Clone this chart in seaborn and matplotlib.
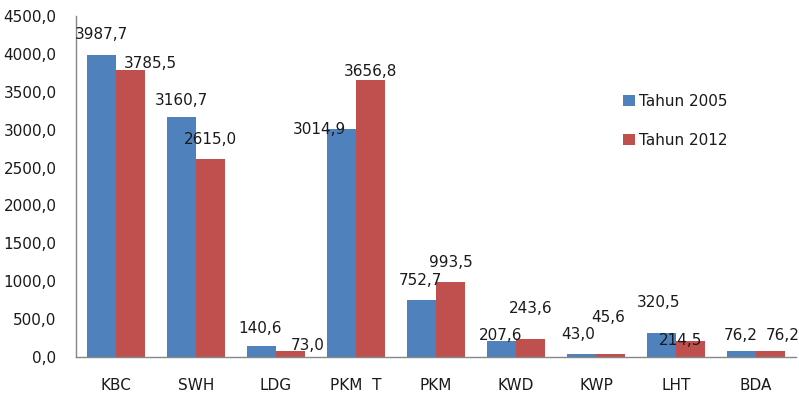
import pandas as pd
import matplotlib
matplotlib.use('Agg')
import matplotlib.pyplot as plt
from matplotlib.ticker import FuncFormatter
import seaborn as sns

width, height = 7.99, 3.96

categories = ['KBC', 'SWH', 'LDG', 'PKM  T', 'PKM', 'KWD', 'KWP', 'LHT', 'BDA']
tahun_2005 = [3987.7, 3160.7, 140.6, 3014.9, 752.7, 207.6, 43.0, 320.5, 76.2]
tahun_2012 = [3785.5, 2615.0, 73.0, 3656.8, 993.5, 243.6, 45.6, 214.5, 76.2]
series = ['Tahun 2005', 'Tahun 2012']

# label offsets (pixels) from top centre of each bar, as placed in the original
offsets_2005 = [(0, 20), (0, 17), (-1, 18), (-22, -1), (-1, 19), (-1, 6), (-3, 19), (-3, 30), (-1, 16)]
offsets_2012 = [(20, 7), (0, 19), (17, 6), (0, 8), (0, 19), (0, 30), (-2, 36), (-10, 0), (12, 16)]

table = pd.DataFrame({
    'lokasi': categories * 2,
    'nilai': tahun_2005 + tahun_2012,
    'tahun': [series[0]] * len(categories) + [series[1]] * len(categories),
})

sns.set_style('white')
plt.rcParams['font.family'] = ['DejaVu Sans']
plt.rcParams['font.size'] = 11

fig = plt.figure(figsize=(width, height), dpi=100)
ax = fig.add_axes([76 / 799, 1 - 357 / 396, 720 / 799, 341 / 396])

sns.barplot(data=table, x='lokasi', y='nilai', hue='tahun', order=categories,
            hue_order=series, palette=['#4F81BD', '#C0504D'], width=0.73,
            saturation=1, linewidth=0, edgecolor='none', ax=ax, legend=True)

fmt = lambda v: f'{v:.1f}'.replace('.', ',')

for container, offs in zip(ax.containers, [offsets_2005, offsets_2012]):
    for bar, off in zip(container, offs):
        x = bar.get_x() + bar.get_width() / 2
        y = bar.get_height()
        ax.annotate(fmt(y), (x, y), xytext=off, textcoords='offset pixels',
                    ha='center', va='center', fontsize=11, color='#1a1a1a')

ax.set_xlim(-0.5, 8.5)
ax.set_ylim(0, 4500)
ax.set_yticks(range(0, 4501, 500))
ax.yaxis.set_major_formatter(FuncFormatter(lambda v, p: fmt(v)))
ax.tick_params(axis='y', length=0, pad=14, labelsize=11, labelcolor='#1a1a1a')
ax.tick_params(axis='x', length=0, pad=15, labelsize=11, labelcolor='#1a1a1a')
ax.set_xlabel('')
ax.set_ylabel('')

sns.despine(ax=ax)
for s in ['left', 'bottom']:
    ax.spines[s].set_color('#868686')
    ax.spines[s].set_linewidth(1)

leg = ax.legend(frameon=False, loc='upper left', bbox_to_anchor=(541 / 720, 1 - 72 / 341),
                fontsize=11, handlelength=0.75, handleheight=0.75, handletextpad=0.3,
                labelspacing=1.55, borderaxespad=0)
for t in leg.get_texts():
    t.set_color('#1a1a1a')
for h in leg.legend_handles:
    h.set_linewidth(0)

fig.savefig('out.png', dpi=100)
